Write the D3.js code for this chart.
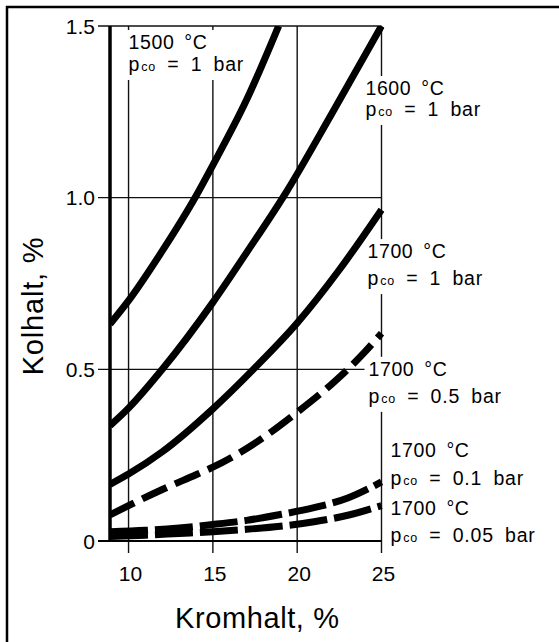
<!DOCTYPE html>
<html>
<head>
<meta charset="utf-8">
<script src="https://cdn.jsdelivr.net/npm/d3@7"></script>
<style>
  html, body { margin: 0; padding: 0; background: #fff; }
  svg { display: block; }
  text { font-family: "Liberation Sans", Arial, Helvetica, sans-serif; fill: #000; }
</style>
</head>
<body>
<svg id="chart" width="559" height="642"></svg>
<script>
// ---------- DATA ----------
const xTicks = [10, 15, 20, 25];
const xTickLabels = ["10", "15", "20", "25"];
const yTicks = [0, 0.5, 1.0, 1.5];
const yTickLabels = ["0", "0.5", "1.0", "1.5"];
const xTitle = "Kromhalt, %";
const yTitle = "Kolhalt, %";

// [Cr %, C %]
const c1500_1bar = [[8.9,0.632],[10,0.70],[12,0.845],[14,1.005],[15,1.095],[17,1.285],[18.9,1.5]];
const c1600_1bar = [[8.9,0.336],[10,0.387],[12,0.5],[15,0.695],[17,0.84],[19.4,1.02],[22,1.24],[25,1.5]];
const c1700_1bar = [[8.9,0.165],[10,0.195],[12,0.26],[15,0.385],[17.4,0.5],[20,0.635],[22.5,0.79],[25,0.965]];
const c1700_05bar = [[8.9,0.076],[10,0.103],[12,0.15],[14,0.193],[15,0.215],[17.5,0.285],[20,0.375],[22,0.455],[23,0.5],[24,0.55],[25,0.605]];
const c1700_01bar = [[8.9,0.027],[11,0.031],[13,0.038],[15,0.048],[17,0.06],[19,0.077],[21,0.097],[23,0.125],[25,0.172]];
const c1700_005bar = [[8.9,0.013],[11,0.017],[13,0.022],[15,0.027],[17,0.034],[19,0.043],[21,0.056],[23,0.075],[25,0.103]];

const seriesNames = ["1500_1", "1600_1", "1700_1", "1700_0.5", "1700_0.1", "1700_0.05"];
const seriesValues = [c1500_1bar, c1600_1bar, c1700_1bar, c1700_05bar, c1700_01bar, c1700_005bar];

const labelTemps = ["1500 °C", "1600 °C", "1700 °C", "1700 °C", "1700 °C", "1700 °C"];
const labelPressures = ["1 bar", "1 bar", "1 bar", "0.5 bar", "0.1 bar", "0.05 bar"];

// ---------- LAYOUT / STYLE ----------
const plot = { left: 110, right: 381.5, top: 26, bottom: 541 };
const dashStyles = { "1500_1": null, "1600_1": null, "1700_1": null,
  "1700_0.5": "27,9", "1700_0.1": "38,7", "1700_0.05": "38,7" };
// label anchors in data units (x, y of first baseline) + line gap px
const labelAnchors = [
  { x: 10.0, y: 1.433, gap: 22 },
  { x: 24.05, y: 1.299, gap: 21 },
  { x: 24.17, y: 0.824, gap: 27 },
  { x: 24.23, y: 0.481, gap: 27 },
  { x: 25.54, y: 0.245, gap: 28 },
  { x: 25.54, y: 0.0757, gap: 27 }
];

const svg = d3.select("#chart");
const x = d3.scaleLinear().domain([8.9, 25]).range([plot.left, plot.right]);
const y = d3.scaleLinear().domain([0, 1.5]).range([plot.bottom, plot.top]);

// grid layer
const gridG = svg.append("g");
// label background layer
const bgG = svg.append("g");
// axis layer
const axisG = svg.append("g");
// curves layer
const curveG = svg.append("g");
// text layer
const textG = svg.append("g");

// outer frame (top and left edges only)
axisG.append("line").attr("x1", 6).attr("x2", 559).attr("y1", 7).attr("y2", 7)
  .attr("stroke", "#000").attr("stroke-width", 2.5);
axisG.append("line").attr("x1", 7).attr("x2", 7).attr("y1", 6).attr("y2", 642)
  .attr("stroke", "#000").attr("stroke-width", 2.5);

// grid
gridG.selectAll(".vgrid").data(xTicks).enter().append("line")
  .attr("x1", d => x(d)).attr("x2", d => x(d))
  .attr("y1", plot.top).attr("y2", plot.bottom + 12)
  .attr("stroke", "#111").attr("stroke-width", 1.4);
gridG.selectAll(".hgrid").data(yTicks.filter(d => d > 0)).enter().append("line")
  .attr("x1", plot.left - 12).attr("x2", x(25))
  .attr("y1", d => y(d)).attr("y2", d => y(d))
  .attr("stroke", "#111").attr("stroke-width", 1.4);

// x axis (0 line)
axisG.append("line").attr("x1", plot.left - 12).attr("x2", x(25))
  .attr("y1", y(0)).attr("y2", y(0)).attr("stroke", "#000").attr("stroke-width", 2.2);
// left axis
axisG.append("line").attr("x1", plot.left).attr("x2", plot.left)
  .attr("y1", plot.top).attr("y2", y(0) + 1).attr("stroke", "#000").attr("stroke-width", 3.5);

// tick labels
textG.selectAll(".ytl").data(yTicks).enter().append("text")
  .attr("x", plot.left - 15).attr("y", d => y(d)).attr("dy", "0.36em")
  .attr("text-anchor", "end").attr("font-size", 21)
  .text((d, i) => yTickLabels[i]);
textG.selectAll(".xtl").data(xTicks).enter().append("text")
  .attr("x", d => x(d) + 2).attr("y", 581)
  .attr("text-anchor", "middle").attr("font-size", 21)
  .text((d, i) => xTickLabels[i]);

// axis titles
textG.append("text").attr("x", 175).attr("y", 628).attr("font-size", 29)
  .attr("letter-spacing", 0.6).text(xTitle);
textG.append("text").attr("transform", "translate(43,306) rotate(-90)")
  .attr("text-anchor", "middle").attr("font-size", 29).attr("letter-spacing", 0.8).text(yTitle);

// curve labels: each line is its own text element, white backgrounds mask grid lines
labelAnchors.forEach((a, i) => {
  const t1 = textG.append("text").attr("font-size", 19.5).attr("letter-spacing", 0.6)
    .attr("word-spacing", 4).attr("x", x(a.x)).attr("y", y(a.y)).text(labelTemps[i]);
  const t2 = textG.append("text").attr("font-size", 19.5).attr("letter-spacing", 0.8)
    .attr("word-spacing", 5).attr("x", x(a.x)).attr("y", y(a.y) + a.gap);
  t2.append("tspan").text("p");
  t2.append("tspan").attr("font-size", 12.5).attr("dx", 1).text("co");
  t2.append("tspan").text(" = " + labelPressures[i]);
  const b1 = t1.node().getBBox(), b2 = t2.node().getBBox();
  const x0 = Math.min(b1.x, b2.x) - 4, x1 = Math.max(b1.x + b1.width, b2.x + b2.width) + 4;
  bgG.append("rect").attr("x", x0).attr("y", b1.y - 1)
    .attr("width", x1 - x0).attr("height", b2.y + b2.height - b1.y + 6)
    .attr("fill", "#fff");
});

// curves
svg.append("clipPath").attr("id", "clip").append("rect")
  .attr("x", plot.left).attr("y", plot.top).attr("width", plot.right - plot.left + 3)
  .attr("height", plot.bottom - plot.top + 6);
curveG.attr("clip-path", "url(#clip)");
const line = d3.line().x(d => x(d[0])).y(d => y(d[1])).curve(d3.curveMonotoneX);
seriesValues.forEach((vals, i) => {
  curveG.append("path").attr("d", line(vals))
    .attr("fill", "none").attr("stroke", "#000").attr("stroke-width", 7)
    .attr("stroke-linecap", "butt")
    .attr("stroke-dasharray", dashStyles[seriesNames[i]]);
});
</script>
</body>
</html>
